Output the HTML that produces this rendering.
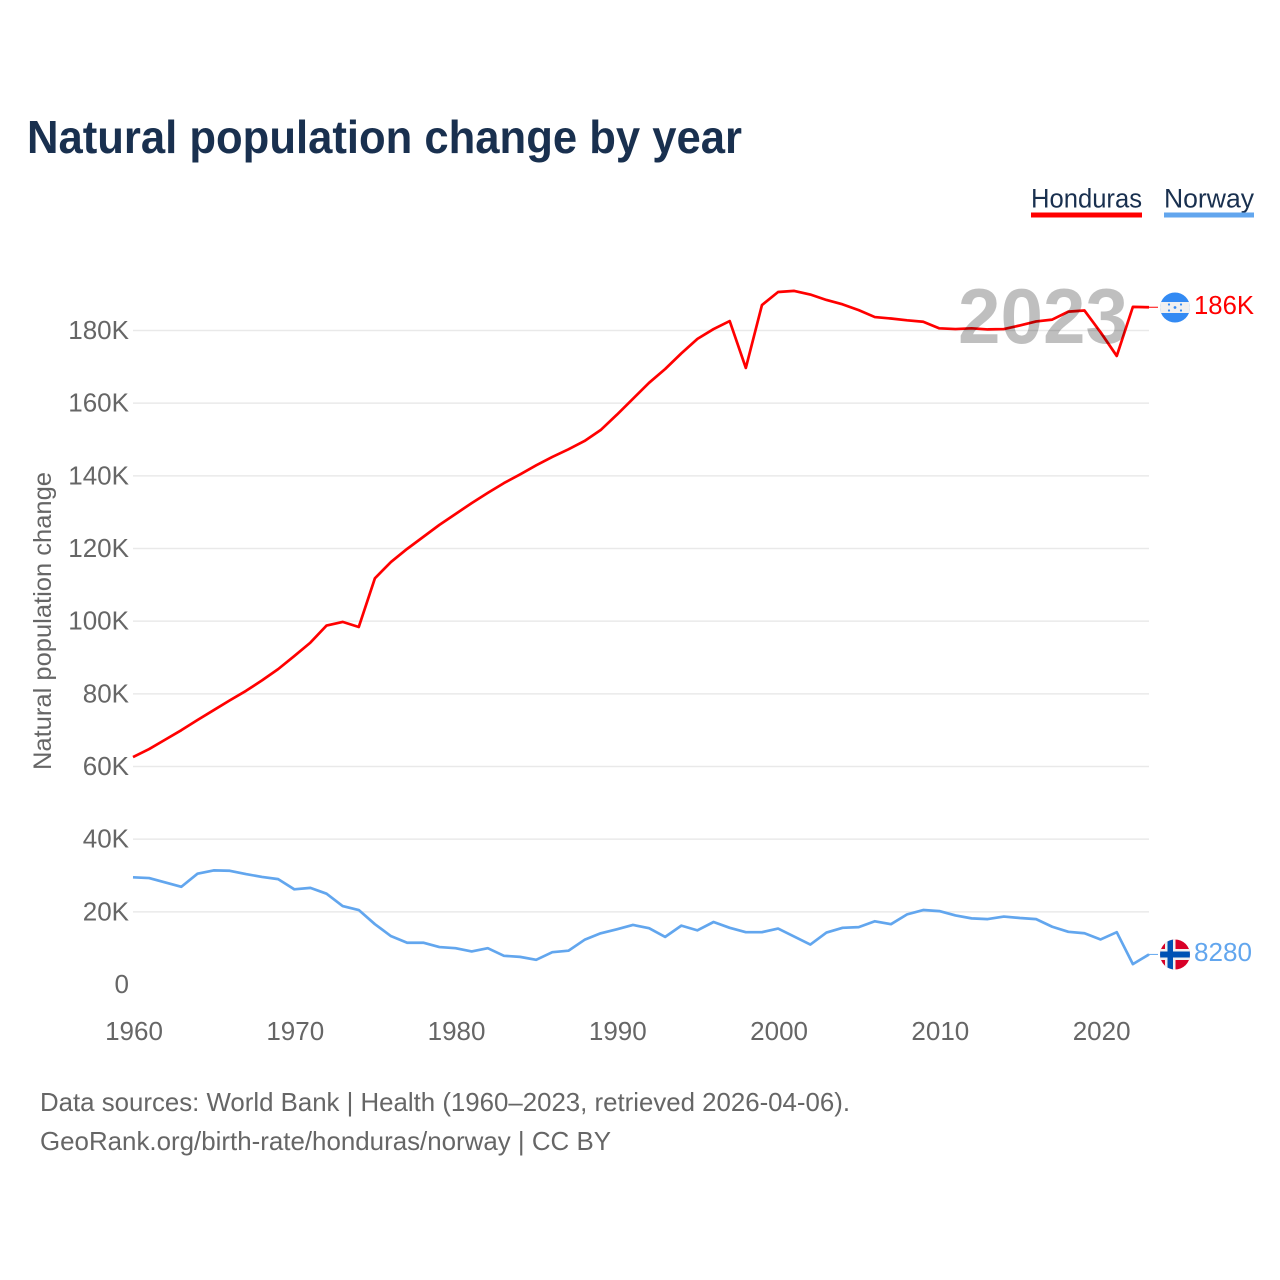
<!DOCTYPE html>
<html lang="en">
<head>
<meta charset="utf-8">
<title>Natural population change by year</title>
<style>
html,body{margin:0;padding:0;background:#fff;}
svg{display:block;font-family:"Liberation Sans",sans-serif;}
</style>
</head>
<body>
<svg id="chart" xmlns="http://www.w3.org/2000/svg" width="1280" height="1280" viewBox="0 0 1280 1280">
  <defs>
    <clipPath id="flag-clip-hn"><circle cx="1175" cy="307.5" r="15"/></clipPath>
    <clipPath id="flag-clip-no"><circle cx="1175" cy="954.5" r="15"/></clipPath>
  </defs>
  <rect width="1280" height="1280" fill="#fff"/>
  <text x="27" y="153" font-size="46" font-weight="700" fill="#19304f" textLength="715" lengthAdjust="spacingAndGlyphs">Natural population change by year</text>

  <g>
    <text x="1031" y="207.5" font-size="27" fill="#19304f" textLength="111" lengthAdjust="spacingAndGlyphs">Honduras</text>
    <rect x="1031" y="212.5" width="111" height="5" fill="#ff0000"/>
  </g>
  <g>
    <text x="1164" y="207.5" font-size="27" fill="#19304f" textLength="90" lengthAdjust="spacingAndGlyphs">Norway</text>
    <rect x="1164" y="212.5" width="90" height="5" fill="#62a6ee"/>
  </g>

  <g id="grid"></g>
  <g id="yticks"></g>
  <g id="xticks"></g>
  <text transform="translate(51,770) rotate(-90)" font-size="25" fill="#666666" textLength="298" lengthAdjust="spacingAndGlyphs">Natural population change</text>

  <g id="series"></g>

  <text x="958" y="343" font-size="78" font-weight="700" fill="#000000" fill-opacity="0.25" textLength="170" lengthAdjust="spacingAndGlyphs">2023</text>

  <g clip-path="url(#flag-clip-hn)">
    <rect x="1160" y="292" width="30" height="31" fill="#338af3"/>
    <rect x="1160" y="302" width="30" height="11" fill="#f0f0f0"/>
    <circle cx="1175" cy="307.5" r="1.4" fill="#338af3"/>
    <circle cx="1169" cy="304.5" r="1.1" fill="#338af3"/>
    <circle cx="1181" cy="304.5" r="1.1" fill="#338af3"/>
    <circle cx="1169" cy="310.5" r="1.1" fill="#338af3"/>
    <circle cx="1181" cy="310.5" r="1.1" fill="#338af3"/>
  </g>
  <g clip-path="url(#flag-clip-no)">
    <rect x="1160" y="939" width="30" height="31" fill="#d80027"/>
    <rect x="1160" y="949" width="30" height="11" fill="#f0f0f0"/>
    <rect x="1165" y="939" width="10.5" height="31" fill="#f0f0f0"/>
    <rect x="1160" y="951.5" width="30" height="6" fill="#0052b4"/>
    <rect x="1167.5" y="939" width="5.5" height="31" fill="#0052b4"/>
  </g>

  <text x="1194" y="314" font-size="26" fill="#ff0000" textLength="60" lengthAdjust="spacingAndGlyphs">186K</text>
  <text x="1194" y="961" font-size="26" fill="#62a6ee" textLength="58" lengthAdjust="spacingAndGlyphs">8280</text>

  <text x="40" y="1111" font-size="26" fill="#666666" textLength="810" lengthAdjust="spacingAndGlyphs">Data sources: World Bank | Health (1960–2023, retrieved 2026-04-06).</text>
  <text x="40" y="1150" font-size="26" fill="#666666" textLength="571" lengthAdjust="spacingAndGlyphs">GeoRank.org/birth-rate/honduras/norway | CC BY</text>
</svg>
<script>
const startYear = 1960;
const yTickValues = [0, 20, 40, 60, 80, 100, 120, 140, 160, 180];
const xTickYears = [1960, 1970, 1980, 1990, 2000, 2010, 2020];
const hondurasValues = [62.6,64.8,67.4,70,72.8,75.5,78.2,80.8,83.7,86.8,90.4,94.1,98.8,99.8,98.4,111.8,116.3,119.9,123.2,126.5,129.5,132.5,135.3,138,140.4,142.9,145.2,147.3,149.6,152.6,156.8,161.2,165.6,169.4,173.7,177.7,180.4,182.6,169.7,187,190.6,190.9,189.9,188.4,187.2,185.6,183.7,183.3,182.8,182.4,180.6,180.4,180.6,180.3,180.4,181.4,182.5,183,185.2,185.5,179.5,173,186.5,186.4];
const norwayValues = [29.5,29.3,28.1,26.9,30.5,31.4,31.3,30.4,29.6,29,26.2,26.6,25,21.6,20.5,16.6,13.3,11.5,11.5,10.3,10,9.1,10,7.9,7.6,6.8,8.9,9.3,12.3,14.1,15.2,16.4,15.5,13.1,16.2,14.9,17.2,15.6,14.4,14.4,15.4,13.2,11,14.3,15.6,15.8,17.4,16.6,19.3,20.5,20.2,19,18.2,18,18.7,18.3,18,15.9,14.5,14.1,12.4,14.4,5.6,8.28];

const NS = 'http://www.w3.org/2000/svg';
function xScale(year) { return 133 + (year - startYear) * (1149 - 133) / 63; }
function yScale(k) { return 984.5 - k * (984.5 - 330.5) / 180; }
function make(tag, attrs, parent) {
  const el = document.createElementNS(NS, tag);
  Object.keys(attrs).forEach(function (k) { el.setAttribute(k, attrs[k]); });
  parent.appendChild(el);
  return el;
}

const gridGroup = document.getElementById('grid');
const yGroup = document.getElementById('yticks');
const xGroup = document.getElementById('xticks');
const seriesGroup = document.getElementById('series');

yTickValues.forEach(function (v) {
  if (v !== 0) {
    const gl = make('line', { x1: 133, x2: 1149, y1: yScale(v), y2: yScale(v), stroke: '#e9e9e9', 'stroke-width': 1.5 }, gridGroup);
    
    
  }
  const t = make('text', { x: 129, y: yScale(v) + 8.5, 'text-anchor': 'end', 'font-size': 26, fill: '#666666' }, yGroup);
  t.textContent = v === 0 ? '0' : v + 'K';
  
  
});

xTickYears.forEach(function (y) {
  const t = make('text', { x: xScale(y) + 1, y: 1040, 'text-anchor': 'middle', 'font-size': 26, fill: '#666666' }, xGroup);
  t.textContent = String(y);
  
  
});

function toPoints(values) {
  return values.map(function (v, i) { return xScale(startYear + i).toFixed(2) + ',' + yScale(v).toFixed(2); }).join(' ');
}
function lastY(values) { return yScale(values[values.length - 1]); }

const leaderH = make('line', { x1: 1149, x2: 1158, y1: lastY(hondurasValues), y2: lastY(hondurasValues), stroke: '#ff0000', 'stroke-width': 1 }, seriesGroup);


const leaderN = make('line', { x1: 1149, x2: 1158, y1: lastY(norwayValues), y2: lastY(norwayValues), stroke: '#62a6ee', 'stroke-width': 1 }, seriesGroup);



const lineN = make('polyline', { points: toPoints(norwayValues), fill: 'none', stroke: '#62a6ee', 'stroke-width': 2.7, 'stroke-linejoin': 'round' }, seriesGroup);


const lineH = make('polyline', { points: toPoints(hondurasValues), fill: 'none', stroke: '#ff0000', 'stroke-width': 2.7, 'stroke-linejoin': 'round' }, seriesGroup);


</script>
</body>
</html>
